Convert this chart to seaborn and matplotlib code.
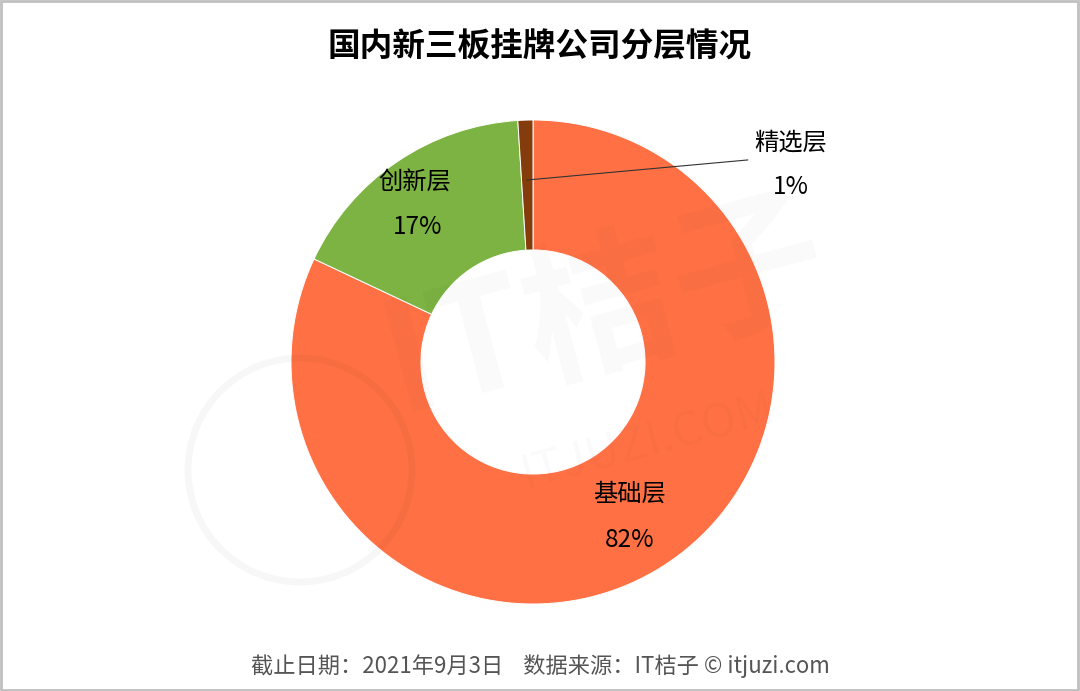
import matplotlib
matplotlib.use("Agg")
import matplotlib.pyplot as plt
import seaborn as sns
from matplotlib.patches import Rectangle, Ellipse

categories = ["基础层", "创新层", "精选层"]
values = [82, 17, 1]
pct_labels = ["82%", "17%", "1%"]
colors = ["#FF7145", "#7CB342", "#843C0C"]

title = "国内新三板挂牌公司分层情况"
footer = "截止日期：2021年9月3日    数据来源：IT桔子 © itjuzi.com"

sns.set_theme(style="white")
plt.rcParams['font.family'] = ['Noto Sans CJK SC', 'DejaVu Sans']

W, H = 1080, 691
fig = plt.figure(figsize=(W / 100, H / 100), dpi=100)
fig.patch.set_facecolor("white")

cx, cy, r = 533, 362, 242
ax = fig.add_axes([(cx - r) / W, (H - cy - r) / H, 2 * r / W, 2 * r / H])

wedges, _ = ax.pie(values, colors=colors, startangle=90, counterclock=False,
                   radius=1.0,
                   wedgeprops=dict(width=0.537, edgecolor="white", linewidth=0.7))
ax.set_xlim(-1, 1)
ax.set_ylim(-1, 1)
ax.set_aspect("equal")
ax.axis("off")

# watermark (faint)
fig.text(0.56, 0.55, "IT桔子", fontsize=110, color="black", alpha=0.025,
         rotation=15, ha="center", va="center", fontweight="bold")
fig.text(0.60, 0.36, "ITJUZI.COM", fontsize=34, color="black", alpha=0.025,
         rotation=15, ha="center", va="center")
fig.patches.append(Ellipse((300 / W, 1 - 470 / H), 2 * 112 / W, 2 * 112 / H,
                           transform=fig.transFigure, fill=False,
                           edgecolor="black", alpha=0.03, linewidth=5))

# labels
lab_pos = {
    "基础层": ((0.40, -0.545), (0.40, -0.735)),
    "创新层": ((-0.49, 0.744), (-0.475, 0.558)),
    "精选层": ((1.066, 0.905), (1.066, 0.723)),
}
for cat, pct in zip(categories, pct_labels):
    (x1, y1), (x2, y2) = lab_pos[cat]
    ax.text(x1, y1, cat, fontsize=17.5, ha="center", va="center", color="black",
            clip_on=False)
    ax.text(x2, y2, pct, fontsize=17.5, ha="center", va="center", color="black",
            clip_on=False)

# leader line for 精选层
ax.plot([-0.025, 0.888], [0.752, 0.835], color="#333333", linewidth=0.8,
        clip_on=False)

fig.text(0.5, 1 - 47 / H, title, fontsize=23.5, fontweight="bold",
         ha="center", va="center", color="black")
fig.text(0.5, 1 - 666 / H, footer, fontsize=16, ha="center", va="center",
         color="#555555")

fig.patches.append(Rectangle((0.0005, 0.0008), 0.998, 0.998, transform=fig.transFigure,
                             fill=False, edgecolor="#c0c0c0", linewidth=2))

fig.savefig("out.png", dpi=100, facecolor="white")
